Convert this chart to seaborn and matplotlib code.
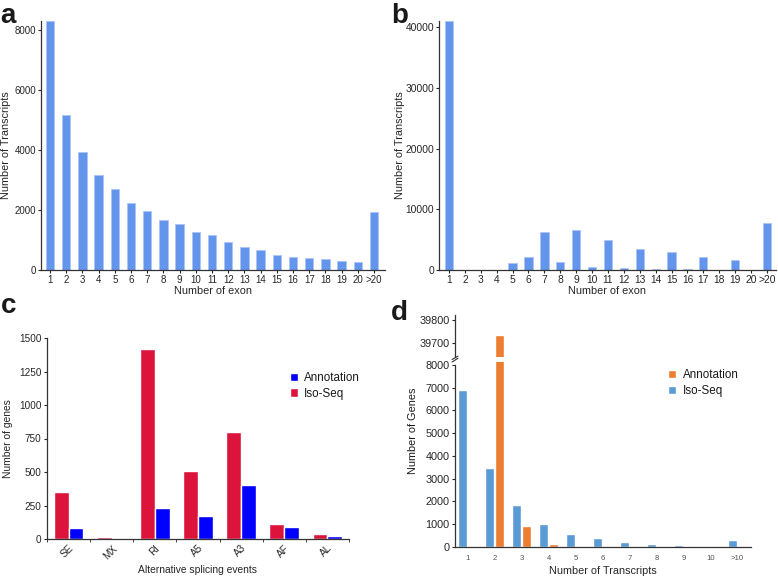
import matplotlib
matplotlib.use("Agg")
import matplotlib.pyplot as plt
import numpy as np
import pandas as pd
import seaborn as sns

# panel a / b: exon number distribution
exon_labels = [str(i) for i in range(1, 21)] + [">20"]
isoseq_exon = [8300, 5170, 3920, 3160, 2690, 2240, 1980, 1660, 1520, 1280,
               1170, 950, 770, 670, 500, 430, 410, 370, 300, 280, 1920]
annot_exon = [41000, 0, 0, 0, 1210, 2090, 6280, 1320, 6590, 550,
              4950, 280, 3520, 170, 2920, 110, 2090, 0, 1660, 0, 7690]

# panel c: alternative splicing events
as_events = ["SE", "MX", "RI", "A5", "A3", "AF", "AL"]
as_isoseq = [352, 15, 1418, 510, 800, 115, 38]
as_annot = [83, 0, 232, 172, 404, 90, 22]

# panel d: transcripts per gene
tx_labels = [str(i) for i in range(1, 11)] + [">10"]
tx_isoseq = [6890, 3480, 1850, 1000, 575, 380, 235, 135, 75, 60, 310]
tx_annot = [0, 39735, 940, 130, 0, 0, 0, 0, 0, 0, 0]

sns.set_style("ticks")
plt.rcParams["font.family"] = ["Liberation Sans", "DejaVu Sans"]
plt.rcParams["axes.edgecolor"] = "#333333"
plt.rcParams["axes.linewidth"] = 0.9
plt.rcParams["text.color"] = "#1a1a1a"

W, H = 778, 577
fig = plt.figure(figsize=(W / 100, H / 100), dpi=100)


def rect(left, right, top, bottom):
    return [left / W, 1 - bottom / H, (right - left) / W, (bottom - top) / H]


blue_a = "#6495ED"
edge_a = "#a8c3f3"

# ---- a
ax_a = fig.add_axes(rect(41, 385, 21, 270))
sns.barplot(x=exon_labels, y=isoseq_exon, color=blue_a, width=0.52,
            edgecolor=edge_a, linewidth=0.5, saturation=1, ax=ax_a)
ax_a.set_xlim(-0.56, 20.68)
ax_a.set_ylim(0, 8300)
ax_a.set_yticks([0, 2000, 4000, 6000, 8000])
ax_a.set_xlabel("Number of exon", fontsize=7.8, labelpad=1)
ax_a.set_ylabel("Number of Transcripts", fontsize=7.8, labelpad=2.5)
ax_a.tick_params(labelsize=7, length=2, pad=1.5)

# ---- b
ax_b = fig.add_axes(rect(439, 776, 21, 270))
sns.barplot(x=exon_labels, y=annot_exon, color=blue_a, width=0.52,
            edgecolor=edge_a, linewidth=0.5, saturation=1, ax=ax_b)
ax_b.set_xlim(-0.63, 20.57)
ax_b.set_ylim(0, 41000)
ax_b.set_yticks([0, 10000, 20000, 30000, 40000])
ax_b.set_xlabel("Number of exon", fontsize=7.8, labelpad=1)
ax_b.set_ylabel("Number of Transcripts", fontsize=7.8, labelpad=0.5)
ax_b.tick_params(labelsize=7.4, length=2, pad=1.5)

for ax in (ax_a, ax_b):
    sns.despine(ax=ax)

# ---- c
df_c = pd.DataFrame({
    "event": as_events * 2,
    "source": ["Iso-Seq"] * len(as_events) + ["Annotation"] * len(as_events),
    "count": as_isoseq + as_annot,
})
ax_c = fig.add_axes(rect(47, 349, 338, 539))
sns.barplot(data=df_c, x="event", y="count", hue="source",
            hue_order=["Iso-Seq", "Annotation"],
            palette={"Iso-Seq": "#DC143C", "Annotation": "#0000FF"},
            width=0.69, saturation=1, ax=ax_c)
ax_c.set_xlim(-0.5, 6.5)
ax_c.set_ylim(0, 1500)
ax_c.set_yticks([0, 250, 500, 750, 1000, 1250, 1500])
ax_c.set_xticks(np.arange(-0.5, 7, 1), minor=True)
ax_c.tick_params(axis="x", which="major", length=0, pad=3)
ax_c.tick_params(axis="x", which="minor", length=2.5)
ax_c.tick_params(axis="y", length=2.5, pad=1.5)
ax_c.tick_params(labelsize=7.2)
plt.setp(ax_c.get_xticklabels(), rotation=45, ha="right", rotation_mode="anchor")
ax_c.set_xlabel("Alternative splicing events", fontsize=7.4, labelpad=3)
ax_c.set_ylabel("Number of genes", fontsize=7.4, labelpad=4)
sns.despine(ax=ax_c)
h, l = ax_c.get_legend_handles_labels()
ax_c.legend(h[::-1], l[::-1], loc="upper left", frameon=False, fontsize=8.4,
            bbox_to_anchor=(290 / W, 1 - 372 / H), bbox_transform=fig.transFigure,
            handlelength=0.7, handleheight=0.7, handletextpad=0.5,
            borderpad=0, borderaxespad=0, labelspacing=0.3)

# ---- d (broken y axis)
df_d = pd.DataFrame({
    "ntx": tx_labels * 2,
    "source": ["Iso-Seq"] * len(tx_labels) + ["Annotation"] * len(tx_labels),
    "count": tx_isoseq + tx_annot,
})
pal_d = {"Iso-Seq": "#5B9BD5", "Annotation": "#ED7D31"}
ax_d = fig.add_axes(rect(455, 751, 362, 547))
ax_dt = fig.add_axes(rect(455, 751, 315, 357))
for ax in (ax_d, ax_dt):
    sns.barplot(data=df_d, x="ntx", y="count", hue="source",
                hue_order=["Iso-Seq", "Annotation"], palette=pal_d,
                width=0.74, gap=0.1, saturation=1, ax=ax)
    ax.set_xlim(-0.48, 10.5)
ax_d.set_ylim(0, 8130)
ax_d.set_yticks(range(0, 8001, 1000))
ax_dt.set_ylim(39636, 39823)
ax_dt.set_yticks([39700, 39800])
ax_dt.legend_.remove()
ax_dt.set_xticks([])
ax_dt.set_xlabel("")
ax_dt.set_ylabel("")
for s in ("top", "right", "bottom"):
    ax_dt.spines[s].set_visible(False)
sns.despine(ax=ax_d)
ax_d.spines["left"].set_bounds(0, 8000)
ax_d.tick_params(axis="y", labelsize=7.8, length=2.5, pad=1.5)
ax_dt.tick_params(axis="y", labelsize=7.8, length=2.5, pad=1.5)
ax_d.tick_params(axis="x", labelsize=5.6, length=0, pad=6, labelcolor="#555555")
ax_d.set_xlabel("Number of Transcripts", fontsize=7.8, labelpad=3)
ax_d.set_ylabel("")
fig.text(413 / W, 1 - 431 / H, "Number of Genes", rotation=90,
         ha="center", va="center", fontsize=7.8)
# break marks on the left spine
kw = dict(color="#333333", lw=0.8, clip_on=False)
ax_dt.plot([-0.01, 0.01], [-0.06, 0.02], transform=ax_dt.transAxes, **kw)
ax_d.plot([-0.01, 0.01], [1.0, 1.02], transform=ax_d.transAxes, **kw)

h, l = ax_d.get_legend_handles_labels()
ax_d.legend(h[::-1], l[::-1], loc="upper left", frameon=False, fontsize=8.4,
            bbox_to_anchor=(668 / W, 1 - 369 / H), bbox_transform=fig.transFigure,
            handlelength=0.7, handleheight=0.7, handletextpad=0.6,
            borderpad=0, borderaxespad=0, labelspacing=0.35)

# panel letters
for x, y, s in [(0, 23, "a"), (391, 23, "b"), (1, 313, "c"), (391, 320, "d")]:
    fig.text(x / W, 1 - y / H, s, fontsize=20, fontweight="bold",
             ha="left", va="baseline")

fig.savefig("out.png", dpi=100)
